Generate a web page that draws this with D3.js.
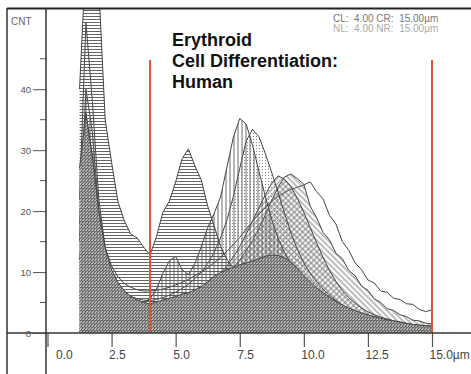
<!DOCTYPE html>
<html>
<head>
<meta charset="utf-8">
<script src="https://cdn.jsdelivr.net/npm/d3@7"></script>
<style>
  body { margin: 0; background: #fff; }
  svg { display: block; font-family: "Liberation Sans", Arial, sans-serif; }
</style>
</head>
<body>
<svg id="chart" width="471" height="374"></svg>
<script>
// Cell size bins (µm)
const sizes = [1.25, 1.5, 1.75, 2.0, 2.25, 2.5, 2.75, 3.0, 3.25, 3.5, 3.75, 4.0, 4.25, 4.5, 4.75,
  5.0, 5.25, 5.5, 5.75, 6.0, 6.25, 6.5, 6.75, 7.0, 7.25, 7.5, 7.75, 8.0, 8.25, 8.5, 8.75,
  9.0, 9.25, 9.5, 9.75, 10.0, 10.25, 10.5, 10.75, 11.0, 11.25, 11.5, 11.75, 12.0, 12.25,
  12.5, 12.75, 13.0, 13.25, 13.5, 13.75, 14.0, 14.25, 14.5, 14.75, 15.0];

// Counts per bin for each sample
const sampleOutline = [16, 36, 29, 20, 14, 11, 9.2, 8.1, 7.5, 7.1, 6.9, 6.9, 7.0, 7.2, 7.5,
  7.9, 8.3, 8.8, 9.4, 10.0, 10.7, 11.5, 12.4, 13.4, 14.5, 15.7, 17.0, 18.3, 19.5, 20.6, 21.6,
  22.4, 23.1, 23.6, 23.9, 24.3, 24.8, 23.2, 22.0, 19.3, 17.9, 15.0, 13.6, 11.5, 10.4,
  8.7, 8.2, 6.9, 6.7, 5.7, 5.5, 4.8, 4.7, 3.9, 3.5, 3.8];
const sampleBackHatch = [12, 25, 22, 15, 10, 7.5, 6.0, 5.2, 4.7, 4.4, 4.3, 4.3, 4.4, 4.6, 4.8,
  5.0, 5.3, 5.6, 6.0, 6.5, 7.1, 7.8, 8.6, 9.6, 10.7, 12.0, 13.5, 15.2, 17.2, 19.4, 21.8,
  24.0, 25.6, 26.1, 25.3, 24.4, 20.8, 18.9, 16.5, 15.3, 13.1, 12.2, 10.3, 9.4, 7.7,
  7.0, 5.6, 5.0, 4.0, 3.7, 3.0, 2.7, 2.1, 2.0, 1.6, 1.5];
const sampleFwdHatch = [15, 30, 26, 17, 11, 8.2, 6.6, 5.6, 5.0, 4.7, 4.5, 4.5, 4.6, 4.8, 5.0,
  5.3, 5.6, 6.0, 6.5, 7.1, 7.8, 8.7, 9.8, 11.0, 12.5, 14.2, 16.2, 18.4, 20.6, 22.7, 24.6,
  25.8, 25.2, 24.0, 22.1, 19.8, 17.3, 14.8, 12.4, 10.3, 8.5, 7.0, 5.8, 4.9, 4.1,
  3.5, 3.0, 2.6, 2.3, 2.0, 1.8, 1.6, 1.4, 1.3, 1.2, 1.1];
const sampleStipple = [22, 51, 38, 22, 14, 10, 8, 6.8, 6, 5.6, 5.4, 5.3, 5.5, 5.8, 6.2,
  6.7, 7.3, 8.0, 8.9, 10.0, 11.4, 13.2, 15.6, 18.5, 22.4, 27.0, 31.5, 33.4, 32.2, 29.4, 26.3,
  23.0, 19.6, 16.4, 13.7, 11.5, 9.8, 8.4, 7.2, 6.2, 5.3, 4.6, 4.0, 3.5, 3.0,
  2.6, 2.3, 2.0, 1.8, 1.6, 1.4, 1.3, 1.2, 1.1, 1.0, 0.9];
const sampleVertical = [18, 40, 33, 20, 13, 9.5, 7.6, 6.4, 5.8, 5.3, 5.1, 5.6, 7.2, 9.8, 11.8,
  12.6, 10.4, 9.6, 11.4, 14.2, 17.3, 19.6, 22.3, 27.2, 32.1, 35.2, 34.3, 30.8, 26.5, 22.4, 18.6,
  15.5, 13.2, 11.3, 9.8, 8.4, 7.3, 6.3, 5.4, 4.7, 4.1, 3.6, 3.1, 2.7, 2.4,
  2.1, 1.8, 1.6, 1.4, 1.2, 1.1, 1.0, 0.9, 0.8, 0.7, 0.7];
const sampleHorizontal = [40, 62, 64, 57, 35, 28, 21.5, 18.4, 16.2, 15.6, 14.1, 12.8, 15.8, 19.8, 21.6,
  24.8, 28.6, 30.2, 27.4, 25.1, 20.8, 17.6, 14.2, 12.1, 10.6, 9.8, 9.1, 8.6, 8.0, 7.4, 6.9,
  6.3, 5.8, 5.2, 4.7, 4.3, 3.9, 3.4, 3.0, 2.7, 2.4, 2.1, 1.9, 1.7, 1.5,
  1.3, 1.2, 1.0, 0.9, 0.8, 0.7, 0.6, 0.5, 0.5, 0.4, 0.4];
const sampleDense = [27, 36, 29, 20, 14, 10.4, 8.3, 6.9, 6.0, 5.4, 5.0, 4.8, 5.1, 5.4, 5.7,
  6.0, 6.4, 6.6, 7.1, 7.6, 8.4, 9.3, 9.9, 10.4, 10.8, 11.2, 11.5, 11.8, 12.2, 12.6, 12.8,
  12.7, 12.3, 11.6, 10.6, 9.4, 8.4, 7.4, 6.6, 5.9, 5.2, 4.6, 4.1, 3.7, 3.3,
  3.0, 2.7, 2.4, 2.2, 2.0, 1.8, 1.6, 1.4, 1.3, 1.2, 1.1];

// Axis ticks and labels
const xTicks = [0, 2.5, 5, 7.5, 10, 12.5, 15];
const xLabels = ["0.0", "2.5", "5.0", "7.5", "10.0", "12.5", "15.0µm"];
const yTicks = [0, 10, 20, 30, 40];
const yMinorTicks = [5, 15, 25, 35, 45];

// Cursor positions (µm) and header text
const cursors = [4.0, 15.0];
const cursorText = ["CL:  4.00 CR:  15.00µm", "NL:  4.00 NR:  15.00µm"];
const titleLines = ["Erythroid", "Cell Differentiation:", "Human"];

const svg = d3.select("#chart");
const x = d3.scaleLinear().domain([0, 15]).range([47.5, 432]);
const y = d3.scaleLinear().domain([0, 53]).range([333, 10]);

// Hatch patterns
const defs = svg.append("defs");
function linePattern(id, w, h, d, color, width, transform) {
  const p = defs.append("pattern").attr("id", id)
    .attr("patternUnits", "userSpaceOnUse").attr("width", w).attr("height", h);
  if (transform) p.attr("patternTransform", transform);
  p.append("path").attr("d", d).attr("stroke", color).attr("stroke-width", width).attr("fill", "none");
  return p;
}
linePattern("hHatch", 4, 3, "M0,1.5H4", "#555", 0.9);
linePattern("vHatch", 4, 4, "M2,0V4", "#5a5a5a", 0.9);
linePattern("fwdHatch", 4, 4, "M2,0V4", "#666", 0.85, "rotate(45)");
linePattern("backHatch", 4, 4, "M2,0V4", "#666", 0.85, "rotate(-45)");
const stip = defs.append("pattern").attr("id", "stipple")
  .attr("patternUnits", "userSpaceOnUse").attr("width", 3).attr("height", 3);
stip.append("rect").attr("x", 1).attr("y", 1).attr("width", 1).attr("height", 1).attr("fill", "#888");
const dense = defs.append("pattern").attr("id", "dense")
  .attr("patternUnits", "userSpaceOnUse").attr("width", 3).attr("height", 3.3);
dense.append("rect").attr("width", 3).attr("height", 3.3).attr("fill", "#c6c6c6");
dense.append("path").attr("d", "M0,3.3L3,0").attr("stroke", "#3e3e3e").attr("stroke-width", 0.9);
dense.append("path").attr("d", "M0,0.4H3").attr("stroke", "#5e5e5e").attr("stroke-width", 0.7);

defs.append("clipPath").attr("id", "plotClip")
  .append("rect").attr("x", 46).attr("y", 9).attr("width", 425).attr("height", 324);

const series = [
  { values: sampleOutline, fill: "none" },
  { values: sampleBackHatch, fill: "url(#backHatch)" },
  { values: sampleFwdHatch, fill: "url(#fwdHatch)" },
  { values: sampleStipple, fill: "url(#stipple)" },
  { values: sampleVertical, fill: "url(#vHatch)" },
  { values: sampleHorizontal, fill: "url(#hHatch)" },
  { values: sampleDense, fill: "url(#dense)" }
];

const area = d3.area().x(d => x(d.s)).y0(y(0)).y1(d => y(d.c));
const line = d3.line().x(d => x(d.s)).y(d => y(d.c));
const plot = svg.append("g").attr("clip-path", "url(#plotClip)");
series.forEach(sr => {
  const pts = sizes.map((s, i) => ({ s, c: sr.values[i] }));
  if (sr.fill !== "none") plot.append("path").datum(pts).attr("d", area).attr("fill", sr.fill);
  plot.append("path").datum(pts).attr("d", line)
    .attr("fill", "none").attr("stroke", "#444").attr("stroke-width", 1);
});

// Frame lines
svg.append("line").attr("x1", 7).attr("x2", 471).attr("y1", 8.5).attr("y2", 8.5)
  .attr("stroke", "#222").attr("stroke-width", 2);
svg.append("line").attr("x1", 7).attr("x2", 7).attr("y1", 8).attr("y2", 374)
  .attr("stroke", "#333").attr("stroke-width", 1.5);

// Cursor lines
svg.selectAll("line.cursor").data(cursors).join("line").attr("class", "cursor")
  .attr("x1", d => x(d)).attr("x2", d => x(d)).attr("y1", 60).attr("y2", y(0))
  .attr("stroke", "#e2542f").attr("stroke-width", 2);

// X axis
const xAxis = svg.append("g").attr("transform", `translate(0,${y(0)})`)
  .call(d3.axisBottom(x).tickValues(xTicks).tickSize(14).tickSizeOuter(0)
    .tickFormat((d, i) => xLabels[i]));
xAxis.select(".domain").remove();
xAxis.selectAll(".tick line").attr("stroke", "#555").attr("stroke-width", 1.2);
xAxis.selectAll(".tick text").attr("fill", "#444").attr("font-size", 12)
  .attr("font-family", "Liberation Sans, Arial, sans-serif")
  .attr("text-anchor", "start").attr("y", 22).attr("dy", "0.32em")
  .attr("x", d => d === 0 ? 8 : -3);
svg.append("line").attr("x1", 7).attr("x2", 471).attr("y1", y(0)).attr("y2", y(0))
  .attr("stroke", "#333").attr("stroke-width", 1.5);

// Y axis
const yAxis = svg.append("g").attr("transform", "translate(46,0)")
  .call(d3.axisLeft(y).tickValues(yTicks).tickSize(13).tickSizeOuter(0).tickPadding(2));
yAxis.select(".domain").remove();
yAxis.selectAll(".tick line").attr("stroke", "#555");
yAxis.selectAll(".tick text").attr("fill", "#555").attr("font-size", 9.5)
  .attr("font-family", "Liberation Sans, Arial, sans-serif");
svg.append("g").selectAll("line").data(yMinorTicks).join("line")
  .attr("x1", 40).attr("x2", 46).attr("y1", d => y(d)).attr("y2", d => y(d))
  .attr("stroke", "#555");
svg.append("line").attr("x1", 46).attr("x2", 46).attr("y1", 8).attr("y2", 374)
  .attr("stroke", "#333").attr("stroke-width", 1.5);
svg.append("text").attr("x", 11).attr("y", 25).attr("font-size", 10).attr("fill", "#666").text("CNT");

// Header
svg.append("g").selectAll("text").data(cursorText).join("text")
  .attr("x", 333).attr("y", (d, i) => 22 + i * 9.5).attr("font-size", 10)
  .attr("fill", (d, i) => i === 0 ? "#777" : "#aaa").attr("xml:space", "preserve")
  .style("white-space", "pre").text(d => d);
svg.append("g").selectAll("text").data(titleLines).join("text")
  .attr("x", 172).attr("y", (d, i) => 46 + i * 21).attr("font-size", 18)
  .attr("font-weight", "bold").attr("fill", "#111").text(d => d);
</script>
</body>
</html>
